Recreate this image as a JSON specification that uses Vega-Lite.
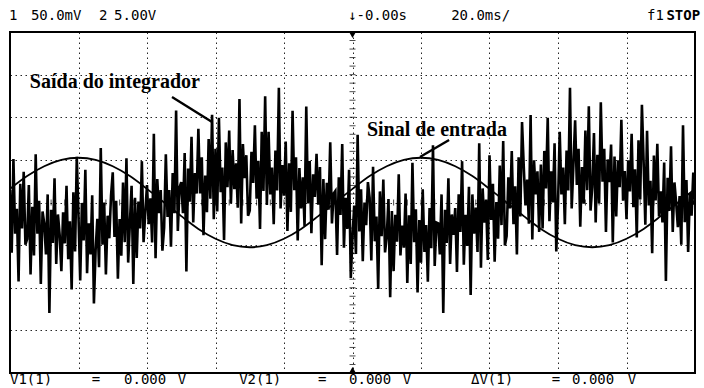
{
 "$schema": "https://vega.github.io/schema/vega-lite/v6.json",
 "width": 685, "height": 341,
 "autosize": {"type": "none"},
 "padding": {"left": 10, "top": 32, "right": 9, "bottom": 15},
 "background": "white",
 "config": {"view": {"stroke": "black", "strokeWidth": 2}},
 "datasets": {
  "input": [
   {"t":-100,"v":0.32},{"t":-95,"v":0.62},{"t":-90,"v":0.85},{"t":-85,"v":1.0},{"t":-80,"v":1.05},{"t":-75,"v":1.0},{"t":-70,"v":0.85},{"t":-65,"v":0.62},{"t":-60,"v":0.32},{"t":-55,"v":0.0},{"t":-50,"v":-0.32},{"t":-45,"v":-0.62},{"t":-40,"v":-0.85},{"t":-35,"v":-1.0},{"t":-30,"v":-1.05},{"t":-25,"v":-1.0},{"t":-20,"v":-0.85},{"t":-15,"v":-0.62},{"t":-10,"v":-0.32},{"t":-5,"v":0.0},{"t":0,"v":0.32},{"t":5,"v":0.62},{"t":10,"v":0.85},{"t":15,"v":1.0},{"t":20,"v":1.05},{"t":25,"v":1.0},{"t":30,"v":0.85},{"t":35,"v":0.62},{"t":40,"v":0.32},{"t":45,"v":0.0},{"t":50,"v":-0.32},{"t":55,"v":-0.62},{"t":60,"v":-0.85},{"t":65,"v":-1.0},{"t":70,"v":-1.05},{"t":75,"v":-1.0},{"t":80,"v":-0.85},{"t":85,"v":-0.62},{"t":90,"v":-0.32},{"t":95,"v":0.0},{"t":100,"v":0.32}
  ],
  "output": [
   {"t":-100,"v":0.29},{"t":-99.5,"v":-1.18},{"t":-99,"v":1.02},{"t":-98.5,"v":-0.73},{"t":-98,"v":-0.15},{"t":-97.5,"v":-1.85},{"t":-97,"v":0.44},{"t":-96.5,"v":-0.61},{"t":-96,"v":0.72},{"t":-95.5,"v":-0.99},
   {"t":-95,"v":-0.86},{"t":-94.5,"v":0.41},{"t":-94,"v":-1.69},{"t":-93.5,"v":-0.10},{"t":-93,"v":-1.24},{"t":-92.5,"v":1.13},{"t":-92,"v":-0.73},{"t":-91.5,"v":0.04},{"t":-91,"v":-1.91},{"t":-90.5,"v":-0.21},
   {"t":-90,"v":-0.49},{"t":-89.5,"v":-1.22},{"t":-89,"v":0.19},{"t":-88.5,"v":-2.59},{"t":-88,"v":-0.17},{"t":-87.5,"v":-0.95},{"t":-87,"v":0.57},{"t":-86.5,"v":-1.44},{"t":-86,"v":-0.28},{"t":-85.5,"v":-0.76},
   {"t":-85,"v":-1.61},{"t":-84.5,"v":-0.23},{"t":-84,"v":-0.96},{"t":-83.5,"v":0.39},{"t":-83,"v":-1.33},{"t":-82.5,"v":-0.44},{"t":-82,"v":-2.04},{"t":-81.5,"v":0.24},{"t":-81,"v":-1.15},{"t":-80.5,"v":1.07},
   {"t":-80,"v":-0.33},{"t":-79.5,"v":-1.83},{"t":-79,"v":-0.01},{"t":-78.5,"v":-0.89},{"t":-78,"v":0.77},{"t":-77.5,"v":-1.66},{"t":-77,"v":-0.49},{"t":-76.5,"v":-1.22},{"t":-76,"v":0.17},{"t":-75.5,"v":-2.37},
   {"t":-75,"v":-1.11},{"t":-74.5,"v":-0.38},{"t":-74,"v":-1.52},{"t":-73.5,"v":1.28},{"t":-73,"v":-0.99},{"t":-72.5,"v":0.0},{"t":-72,"v":-1.69},{"t":-71.5,"v":-0.31},{"t":-71,"v":-0.84},{"t":-70.5,"v":0.17},
   {"t":-70,"v":0.71},{"t":-69.5,"v":-0.81},{"t":-69,"v":0.04},{"t":-68.5,"v":-1.79},{"t":-68,"v":-0.39},{"t":-67.5,"v":-1.25},{"t":-67,"v":0.47},{"t":-66.5,"v":-0.93},{"t":-66,"v":1.04},{"t":-65.5,"v":-1.41},
   {"t":-65,"v":-0.49},{"t":-64.5,"v":0.39},{"t":-64,"v":-1.91},{"t":-63.5,"v":0.11},{"t":-63,"v":-1.30},{"t":-62.5,"v":0.02},{"t":-62,"v":-0.61},{"t":-61.5,"v":0.97},{"t":-61,"v":-0.93},{"t":-60.5,"v":-0.23},
   {"t":-60,"v":0.41},{"t":-59.5,"v":-0.51},{"t":-59,"v":0.10},{"t":-58.5,"v":-0.94},{"t":-58,"v":1.61},{"t":-57.5,"v":-1.31},{"t":-57,"v":0.55},{"t":-56.5,"v":-0.25},{"t":-56,"v":0.29},{"t":-55.5,"v":-1.13},
   {"t":-55,"v":-0.59},{"t":-54.5,"v":1.13},{"t":-54,"v":-0.34},{"t":-53.5,"v":0.29},{"t":-53,"v":-1.04},{"t":-52.5,"v":0.69},{"t":-52,"v":-0.25},{"t":-51.5,"v":2.16},{"t":-51,"v":-0.67},{"t":-50.5,"v":0.35},
   {"t":-50,"v":0.48},{"t":-49.5,"v":-0.25},{"t":-49,"v":1.16},{"t":-48.5,"v":-1.62},{"t":-48,"v":0.80},{"t":-47.5,"v":0.02},{"t":-47,"v":1.54},{"t":-46.5,"v":-0.47},{"t":-46,"v":0.69},{"t":-45.5,"v":0.21},
   {"t":-45,"v":1.73},{"t":-44.5,"v":0.21},{"t":-44,"v":1.06},{"t":-43.5,"v":-0.77},{"t":-43,"v":0.63},{"t":-42.5,"v":-0.23},{"t":-42,"v":1.49},{"t":-41.5,"v":0.09},{"t":-41,"v":2.06},{"t":-40.5,"v":-0.39},
   {"t":-40,"v":1.26},{"t":-39.5,"v":-0.21},{"t":-39,"v":1.99},{"t":-38.5,"v":0.24},{"t":-38,"v":0.82},{"t":-37.5,"v":-0.88},{"t":-37,"v":1.41},{"t":-36.5,"v":0.36},{"t":-36,"v":1.69},{"t":-35.5,"v":-0.02},
   {"t":-35,"v":1.23},{"t":-34.5,"v":0.31},{"t":-34,"v":0.92},{"t":-33.5,"v":-0.12},{"t":-33,"v":2.43},{"t":-32.5,"v":-0.49},{"t":-32,"v":1.37},{"t":-31.5,"v":0.57},{"t":-31,"v":1.11},{"t":-30.5,"v":-0.31},
   {"t":-30,"v":-0.19},{"t":-29.5,"v":1.19},{"t":-29,"v":0.46},{"t":-28.5,"v":1.81},{"t":-28,"v":0.09},{"t":-27.5,"v":0.98},{"t":-27,"v":-0.62},{"t":-26.5,"v":1.66},{"t":-26,"v":0.27},{"t":-25.5,"v":2.49},
   {"t":-25,"v":-0.06},{"t":-24.5,"v":1.66},{"t":-24,"v":0.19},{"t":-23.5,"v":0.82},{"t":-23,"v":-0.51},{"t":-22.5,"v":1.22},{"t":-22,"v":0.28},{"t":-21.5,"v":2.69},{"t":-21,"v":-0.14},{"t":-20.5,"v":0.88},
   {"t":-20,"v":0.16},{"t":-19.5,"v":1.43},{"t":-19,"v":-0.67},{"t":-18.5,"v":0.92},{"t":-18,"v":-0.22},{"t":-17.5,"v":2.15},{"t":-17,"v":0.29},{"t":-16.5,"v":1.06},{"t":-16,"v":-0.89},{"t":-15.5,"v":0.81},
   {"t":-15,"v":-0.14},{"t":-14.5,"v":0.59},{"t":-14,"v":-0.55},{"t":-13.5,"v":2.25},{"t":-13,"v":-0.02},{"t":-12.5,"v":0.97},{"t":-12,"v":-0.72},{"t":-11.5,"v":0.66},{"t":-11,"v":0.13},{"t":-10.5,"v":1.14},
   {"t":-10,"v":-0.05},{"t":-9.5,"v":0.83},{"t":-9,"v":-1.47},{"t":-8.5,"v":0.55},{"t":-8,"v":-0.86},{"t":-7.5,"v":0.46},{"t":-7,"v":-0.17},{"t":-6.5,"v":1.41},{"t":-6,"v":-0.49},{"t":-5.5,"v":0.21},
   {"t":-5,"v":0.27},{"t":-4.5,"v":-1.23},{"t":-4,"v":0.59},{"t":-3.5,"v":-0.29},{"t":-3,"v":1.37},{"t":-2.5,"v":-1.06},{"t":-2,"v":0.11},{"t":-1.5,"v":-0.62},{"t":-1,"v":0.77},{"t":-0.5,"v":-1.77},
   {"t":0,"v":-0.80},{"t":0.5,"v":-0.07},{"t":1,"v":-1.21},{"t":1.5,"v":1.59},{"t":2,"v":-0.68},{"t":2.5,"v":0.31},{"t":3,"v":-1.38},{"t":3.5,"v":0.0},{"t":4,"v":-0.53},{"t":4.5,"v":0.48},
   {"t":5,"v":0.11},{"t":5.5,"v":-1.36},{"t":6,"v":0.84},{"t":6.5,"v":-0.91},{"t":7,"v":-0.33},{"t":7.5,"v":-2.03},{"t":8,"v":0.26},{"t":8.5,"v":-0.79},{"t":9,"v":0.54},{"t":9.5,"v":-1.17},
   {"t":10,"v":-0.80},{"t":10.5,"v":0.08},{"t":11,"v":-2.22},{"t":11.5,"v":-0.20},{"t":12,"v":-1.61},{"t":12.5,"v":-0.29},{"t":13,"v":-0.92},{"t":13.5,"v":0.66},{"t":14,"v":-1.24},{"t":14.5,"v":-0.54},
   {"t":15,"v":-1.06},{"t":15.5,"v":0.21},{"t":16,"v":-1.89},{"t":16.5,"v":-0.30},{"t":17,"v":-1.44},{"t":17.5,"v":0.93},{"t":18,"v":-0.93},{"t":18.5,"v":-0.16},{"t":19,"v":-2.11},{"t":19.5,"v":-0.41},
   {"t":20,"v":-1.41},{"t":20.5,"v":0.31},{"t":21,"v":-1.16},{"t":21.5,"v":-0.53},{"t":22,"v":-1.86},{"t":22.5,"v":-0.13},{"t":23,"v":-1.07},{"t":23.5,"v":1.34},{"t":24,"v":-1.49},{"t":24.5,"v":-0.47},
   {"t":25,"v":-0.49},{"t":25.5,"v":-1.22},{"t":26,"v":0.19},{"t":26.5,"v":-2.59},{"t":27,"v":-0.17},{"t":27.5,"v":-0.95},{"t":28,"v":0.57},{"t":28.5,"v":-1.44},{"t":29,"v":-0.28},{"t":29.5,"v":-0.76},
   {"t":30,"v":-0.13},{"t":30.5,"v":-1.63},{"t":31,"v":0.19},{"t":31.5,"v":-0.69},{"t":32,"v":0.97},{"t":32.5,"v":-1.46},{"t":33,"v":-0.29},{"t":33.5,"v":-1.02},{"t":34,"v":0.37},{"t":34.5,"v":-2.17},
   {"t":35,"v":0.19},{"t":35.5,"v":-0.73},{"t":36,"v":-0.12},{"t":36.5,"v":-1.16},{"t":37,"v":1.39},{"t":37.5,"v":-1.53},{"t":38,"v":0.33},{"t":38.5,"v":-0.47},{"t":39,"v":0.07},{"t":39.5,"v":-1.35},
   {"t":40,"v":1.11},{"t":40.5,"v":-0.41},{"t":41,"v":0.44},{"t":41.5,"v":-1.39},{"t":42,"v":0.01},{"t":42.5,"v":-0.85},{"t":43,"v":0.87},{"t":43.5,"v":-0.53},{"t":44,"v":1.44},{"t":44.5,"v":-1.01},
   {"t":45,"v":-0.79},{"t":45.5,"v":0.59},{"t":46,"v":-0.14},{"t":46.5,"v":1.21},{"t":47,"v":-0.51},{"t":47.5,"v":0.38},{"t":48,"v":-1.22},{"t":48.5,"v":1.06},{"t":49,"v":-0.33},{"t":49.5,"v":1.89},
   {"t":50,"v":0.85},{"t":50.5,"v":-0.07},{"t":51,"v":0.54},{"t":51.5,"v":-0.50},{"t":52,"v":2.05},{"t":52.5,"v":-0.87},{"t":53,"v":0.99},{"t":53.5,"v":0.19},{"t":54,"v":0.73},{"t":54.5,"v":-0.69},
   {"t":55,"v":0.89},{"t":55.5,"v":-0.61},{"t":56,"v":1.21},{"t":56.5,"v":0.33},{"t":57,"v":1.99},{"t":57.5,"v":-0.44},{"t":58,"v":0.73},{"t":58.5,"v":0.0},{"t":59,"v":1.39},{"t":59.5,"v":-1.15},
   {"t":60,"v":-0.06},{"t":60.5,"v":1.66},{"t":61,"v":0.19},{"t":61.5,"v":0.82},{"t":62,"v":-0.51},{"t":62.5,"v":1.22},{"t":63,"v":0.28},{"t":63.5,"v":2.69},{"t":64,"v":-0.14},{"t":64.5,"v":0.88},
   {"t":65,"v":1.93},{"t":65.5,"v":0.41},{"t":66,"v":1.26},{"t":66.5,"v":-0.57},{"t":67,"v":0.83},{"t":67.5,"v":-0.03},{"t":68,"v":1.69},{"t":68.5,"v":0.29},{"t":69,"v":2.26},{"t":69.5,"v":-0.19},
   {"t":70,"v":0.36},{"t":70.5,"v":1.63},{"t":71,"v":-0.47},{"t":71.5,"v":1.12},{"t":72,"v":-0.02},{"t":72.5,"v":2.35},{"t":73,"v":0.49},{"t":73.5,"v":1.26},{"t":74,"v":-0.69},{"t":74.5,"v":1.01},
   {"t":75,"v":0.48},{"t":75.5,"v":1.36},{"t":76,"v":-0.94},{"t":76.5,"v":1.08},{"t":77,"v":-0.33},{"t":77.5,"v":0.99},{"t":78,"v":0.36},{"t":78.5,"v":1.94},{"t":79,"v":0.04},{"t":79.5,"v":0.74},
   {"t":80,"v":-0.39},{"t":80.5,"v":0.99},{"t":81,"v":0.26},{"t":81.5,"v":1.61},{"t":82,"v":-0.11},{"t":82.5,"v":0.78},{"t":83,"v":-0.82},{"t":83.5,"v":1.46},{"t":84,"v":0.07},{"t":84.5,"v":2.29},
   {"t":85,"v":0.95},{"t":85.5,"v":-0.52},{"t":86,"v":1.68},{"t":86.5,"v":-0.07},{"t":87,"v":0.51},{"t":87.5,"v":-1.19},{"t":88,"v":1.10},{"t":88.5,"v":0.05},{"t":89,"v":1.38},{"t":89.5,"v":-0.33},
   {"t":90,"v":0.26},{"t":90.5,"v":-0.47},{"t":91,"v":0.94},{"t":91.5,"v":-1.84},{"t":92,"v":0.58},{"t":92.5,"v":-0.20},{"t":93,"v":1.32},{"t":93.5,"v":-0.69},{"t":94,"v":0.47},{"t":94.5,"v":-0.01},
   {"t":95,"v":-0.58},{"t":95.5,"v":0.15},{"t":96,"v":-0.99},{"t":96.5,"v":1.81},{"t":97,"v":-0.46},{"t":97.5,"v":0.53},{"t":98,"v":-1.16},{"t":98.5,"v":0.22},{"t":99,"v":-0.31},{"t":99.5,"v":0.70},
   {"t":100,"v":0.05}
  ],
  "vticks": [
   {"v":-3.8},{"v":-3.6},{"v":-3.4},{"v":-3.2},{"v":-3.0},{"v":-2.8},{"v":-2.6},{"v":-2.4},{"v":-2.2},{"v":-2.0},{"v":-1.8},{"v":-1.6},{"v":-1.4},{"v":-1.2},{"v":-1.0},{"v":-0.8},{"v":-0.6},{"v":-0.4},{"v":-0.2},{"v":0.2},{"v":0.4},{"v":0.6},{"v":0.8},{"v":1.0},{"v":1.2},{"v":1.4},{"v":1.6},{"v":1.8},{"v":2.0},{"v":2.2},{"v":2.4},{"v":2.6},{"v":2.8},{"v":3.0},{"v":3.2},{"v":3.4},{"v":3.6},{"v":3.8}
  ],
  "hticks": [
   {"t":-96},{"t":-92},{"t":-88},{"t":-84},{"t":-80},{"t":-76},{"t":-72},{"t":-68},{"t":-64},{"t":-60},{"t":-56},{"t":-52},{"t":-48},{"t":-44},{"t":-40},{"t":-36},{"t":-32},{"t":-28},{"t":-24},{"t":-20},{"t":-16},{"t":-12},{"t":-8},{"t":-4},{"t":4},{"t":8},{"t":12},{"t":16},{"t":20},{"t":24},{"t":28},{"t":32},{"t":36},{"t":40},{"t":44},{"t":48},{"t":52},{"t":56},{"t":60},{"t":64},{"t":68},{"t":72},{"t":76},{"t":80},{"t":84},{"t":88},{"t":92},{"t":96}
  ],
  "header": [
   {"t":-100.3,"v":4.375,"s":"1"},{"t":-93.9,"v":4.375,"s":"50.0mV"},{"t":-74.0,"v":4.375,"s":"2"},{"t":-69.6,"v":4.375,"s":"5.00V"},{"t":-1.3,"v":4.375,"s":"↓-0.00s"},{"t":28.8,"v":4.375,"s":"20.0ms/"},{"t":86.0,"v":4.375,"s":"f1"},
   {"t":-100.0,"v":-4.164,"s":"V1(1)"},{"t":-76.1,"v":-4.164,"s":"="},{"t":-66.7,"v":-4.164,"s":"0.000"},{"t":-51.0,"v":-4.164,"s":"V"},
   {"t":-33.1,"v":-4.164,"s":"V2(1)"},{"t":-10.1,"v":-4.164,"s":"="},{"t":-1.0,"v":-4.164,"s":"0.000"},{"t":14.7,"v":-4.164,"s":"V"},
   {"t":34.6,"v":-4.164,"s":"ΔV(1)"},{"t":58.2,"v":-4.164,"s":"="},{"t":64.1,"v":-4.164,"s":"0.000"},{"t":80.4,"v":-4.164,"s":"V"}
  ],
  "labels": [
   {"t":-94.2,"v":2.83,"s":"Saída do integrador"},
   {"t":4.2,"v":1.70,"s":"Sinal de entrada"}
  ],
  "arrows": [
   {"t":-52.7,"v":2.475,"t2":-41.0,"v2":1.89},
   {"t":28.2,"v":1.466,"t2":19.7,"v2":1.067}
  ]
 },
 "layer": [
  {
   "data": {"name": "input"},
   "mark": {"type": "line", "color": "black", "strokeWidth": 1.8, "interpolate": "monotone", "clip": true},
   "encoding": {
    "x": {"field": "t", "type": "quantitative", "scale": {"domain": [-100, 100], "nice": false},
     "axis": {"values": [-80,-60,-40,-20,0,20,40,60,80], "grid": true, "labels": false, "ticks": false, "domain": false, "title": null, "gridDash": [1.5, 3.5], "gridColor": "black", "gridOpacity": 0.85, "gridWidth": 1}},
    "y": {"field": "v", "type": "quantitative", "scale": {"domain": [-4, 4], "nice": false},
     "axis": {"values": [-3,-2,-1,0,1,2,3], "grid": true, "labels": false, "ticks": false, "domain": false, "title": null, "gridDash": [1.5, 3.5], "gridColor": "black", "gridOpacity": 0.85, "gridWidth": 1}}
   }
  },
  {
   "data": {"name": "vticks"},
   "mark": {"type": "tick", "orient": "horizontal", "color": "black", "size": 6, "thickness": 1},
   "encoding": {"x": {"datum": 0, "type": "quantitative"}, "y": {"field": "v", "type": "quantitative"}}
  },
  {
   "data": {"name": "hticks"},
   "mark": {"type": "tick", "orient": "vertical", "color": "black", "size": 6, "thickness": 1},
   "encoding": {"x": {"field": "t", "type": "quantitative"}, "y": {"datum": 0, "type": "quantitative"}}
  },
  {
   "data": {"name": "output"},
   "mark": {"type": "line", "color": "black", "strokeWidth": 2.6, "strokeJoin": "miter", "clip": true},
   "encoding": {"x": {"field": "t", "type": "quantitative"}, "y": {"field": "v", "type": "quantitative"}}
  },
  {
   "data": {"name": "arrows"},
   "mark": {"type": "rule", "color": "black", "strokeWidth": 2.4},
   "encoding": {"x": {"field": "t", "type": "quantitative"}, "y": {"field": "v", "type": "quantitative"}, "x2": {"field": "t2"}, "y2": {"field": "v2"}}
  },
  {
   "data": {"name": "labels"},
   "mark": {"type": "text", "font": "Times New Roman, Liberation Serif, DejaVu Serif, serif", "fontWeight": "bold", "fontSize": 20, "align": "left", "baseline": "middle", "color": "black"},
   "encoding": {"x": {"field": "t", "type": "quantitative"}, "y": {"field": "v", "type": "quantitative"}, "text": {"field": "s"}}
  },
  {
   "data": {"name": "header"},
   "mark": {"type": "text", "font": "DejaVu Sans Mono", "fontSize": 14, "align": "left", "baseline": "middle", "color": "black"},
   "encoding": {"x": {"field": "t", "type": "quantitative"}, "y": {"field": "v", "type": "quantitative"}, "text": {"field": "s"}}
  },
  {
   "data": {"values": [{"t": 101.5, "v": 4.375, "s": "STOP"}]},
   "mark": {"type": "text", "font": "DejaVu Sans Mono", "fontWeight": "bold", "fontSize": 14, "align": "right", "baseline": "middle", "color": "black"},
   "encoding": {"x": {"field": "t", "type": "quantitative"}, "y": {"field": "v", "type": "quantitative"}, "text": {"field": "s"}}
  },
  {
   "data": {"values": [{"t": 0, "v": 3.93}]},
   "mark": {"type": "point", "shape": "triangle-down", "filled": true, "color": "black", "size": 45, "opacity": 1},
   "encoding": {"x": {"field": "t", "type": "quantitative"}, "y": {"field": "v", "type": "quantitative"}}
  },
  {
   "data": {"values": [{"t": 0, "v": -3.93}]},
   "mark": {"type": "point", "shape": "triangle-up", "filled": true, "color": "black", "size": 45, "opacity": 1},
   "encoding": {"x": {"field": "t", "type": "quantitative"}, "y": {"field": "v", "type": "quantitative"}}
  },
  {
   "data": {"values": [{"t": 99.2, "v": 0}]},
   "mark": {"type": "point", "shape": "triangle-left", "filled": true, "color": "black", "size": 35, "opacity": 1},
   "encoding": {"x": {"field": "t", "type": "quantitative"}, "y": {"field": "v", "type": "quantitative"}}
  }
 ]
}
